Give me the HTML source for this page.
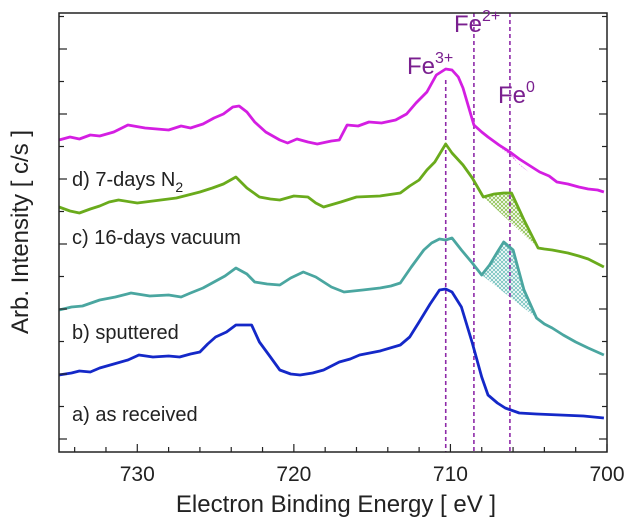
<!DOCTYPE html>
<html><head><meta charset="utf-8"><style>
body{margin:0;background:#fff;}
svg{display:block;font-family:"Liberation Sans",sans-serif;}
</style></head><body>
<svg id="chart" width="627" height="526" viewBox="0 0 627 526">
<defs>
<pattern id="hm" width="4" height="4" patternUnits="userSpaceOnUse"><path d="M0,0L4,4M4,0L0,4" stroke="#e060ee" stroke-width="0.8"/></pattern>
<pattern id="hg" width="4" height="4" patternUnits="userSpaceOnUse"><path d="M0,0L4,4M4,0L0,4" stroke="#8cc050" stroke-width="0.8"/></pattern>
<pattern id="ht" width="4" height="4" patternUnits="userSpaceOnUse"><path d="M0,0L4,4M4,0L0,4" stroke="#70c0bc" stroke-width="0.8"/></pattern>
</defs>
<g id="marks"></g>
<rect x="59" y="13" width="548" height="439" fill="none" stroke="#222" stroke-width="1.5"/>
<g id="axes"></g>
<text x="72" y="186" font-size="20" fill="#222">d) 7-days N<tspan font-size="14" dy="6">2</tspan></text>
<text x="72" y="244" font-size="20" fill="#222">c) 16-days vacuum</text>
<text x="72" y="339" font-size="20" fill="#222">b) sputtered</text>
<text x="72" y="421" font-size="20" fill="#222">a) as received</text>
<text x="407" y="74" font-size="24" fill="#7a1f8f">Fe<tspan font-size="16" dy="-11">3+</tspan></text>
<text x="454" y="32" font-size="24" fill="#7a1f8f">Fe<tspan font-size="16" dy="-11">2+</tspan></text>
<text x="498" y="103" font-size="24" fill="#7a1f8f">Fe<tspan font-size="16" dy="-11">0</tspan></text>
<text x="336" y="512" font-size="24" fill="#222" text-anchor="middle">Electron Binding Energy [ eV ]</text>
<text transform="translate(28,232) rotate(-90)" font-size="24" fill="#222" text-anchor="middle">Arb. Intensity [ c/s ]</text>
</svg>
<script>
const xTicks=[730,720,710,700];
const refLines=[710.3,708.5,706.2];
const eD=[735,734.3,733.7,733,732.4,731.5,730.6,729.5,728,727.2,726.6,725.8,725.1,724.5,723.9,723.5,723,722.5,721.8,720.9,720.4,719.8,719.1,718.5,717.6,717.1,716.6,715.9,715.2,714.4,713.5,712.8,712.2,711.5,710.9,710.3,709.9,709.5,709.2,708.5,708,707.6,706.9,706.2,705.6,705,704.3,703.7,703.2,702.5,701.8,701.2,700.6,700.2];
const vD=[312,315,313,317,316,320,327,324,322,326,324,328,334,338,345,346,340,330,320,312,309,313,310,308,311,312,327,326,330,329,332,338,349,360,377,383,382,375,364,327,320,315,307,300,293,287,280,276,270,268,265,263,262,260];
const eC=[735,734.3,733.7,733,732.4,731.8,731.2,730,729,727.5,726,725.2,724.5,723.7,723,722.2,721.5,720.9,720,719.1,718.6,718.1,717,716,714.5,713.2,712.6,712,711.5,711,710.3,709.9,709.2,708.6,707.9,707.2,706.6,706.1,705.3,704.4,704,703.5,702.5,701.8,701.2,700.2];
const vC=[245,241,239,243,246,250,252,249,251,254,260,264,268,275,264,255,253,252,256,255,249,245,250,255,256,259,266,272,282,290,308,299,287,274,255,258,259,259,232,204,203,202,199,196,193,185];
const eB=[735,734.2,733.5,732.4,731.4,730.4,729.2,728,727.2,726.6,725.8,725.1,724.4,723.7,723,722.5,721.7,720.9,720.2,719.4,718.6,717.6,716.8,715.6,714.5,713.8,713.2,712.5,711.7,711.2,710.7,710.3,709.9,709.3,708.6,708,707.5,707,706.6,706,705.3,704.5,704,703.5,702.8,702,701.2,700.2];
const vB=[142,145,146,152,155,159,156,157,155,159,164,170,176,184,178,170,168,167,174,180,175,165,160,162,164,166,169,185,202,209,213,212,214,202,189,177,187,200,210,202,162,134,128,124,117,110,104,97];
const eA=[735,734.2,733.7,733,732.4,731.5,730.6,729.9,729,728,727.3,726.6,726,725.5,725,724.3,723.7,723.2,722.7,722.2,721.5,720.9,720.2,719.6,718.8,718.1,717.1,716.4,715.8,714.5,713.2,712.6,712,711.3,710.7,710.3,709.9,709.3,708.6,708,707.6,707,706.5,705.6,704.5,703,701.5,700.2];
const vA=[77,79,81,80,84,88,92,97,95,96,95,98,100,108,115,120,127,127,127,110,95,82,78,77,79,82,90,93,97,101,107,115,130,148,162,163,160,145,109,75,57,49,44,39,38,37,36,34];
const mD=[[707.6,315],[706.9,307],[706.2,300],[705.6,287],[705.0,280]];
const mC=[[707.9,255],[707.2,258],[706.6,259],[706.1,259],[705.3,232],[704.4,204]];
const mB=[[708,177],[707.5,187],[707,200],[706.6,210],[706,202],[705.3,162],[704.5,134]];

const X=e=>59+(735-e)*(607-59)/35;
const Y=v=>452-v;
const NS="http://www.w3.org/2000/svg";
const marks=document.getElementById('marks'), axes=document.getElementById('axes');
function mk(tag,attrs,parent){const el=document.createElementNS(NS,tag);for(const k in attrs)el.setAttribute(k,attrs[k]);parent.appendChild(el);return el;}
function poly(es,vs){return es.map((e,i)=>X(e).toFixed(1)+','+Y(vs[i]).toFixed(1)).join(' ');}
function area(pts,fill,name){
  const p=pts.map(q=>X(q[0]).toFixed(1)+','+Y(q[1]).toFixed(1)).join(' ');
  const el=mk('polygon',{points:p,fill:fill,stroke:'none'},marks);
  
  
}
area(mD,'url(#hm)','fe0-area-d');
area(mC,'url(#hg)','fe0-area-c');
area(mB,'url(#ht)','fe0-area-b');
const refNames=['fe3-line','fe2-line','fe0-line'];
const refTop=[80,13,13];
refLines.forEach((e,i)=>{
  const l=mk('line',{x1:X(e),x2:X(e),y1:refTop[i],y2:452,stroke:'#8e2aa8','stroke-width':1.6,'stroke-dasharray':'4,3'},marks);
  
  
});
const series=[[eD,vD,'#d41ee2','series-d-7days-n2'],[eC,vC,'#6aab1c','series-c-16days-vacuum'],[eB,vB,'#4aa6a0','series-b-sputtered'],[eA,vA,'#1428c8','series-a-as-received']];
series.forEach(s=>{
  const pl=mk('polyline',{points:poly(s[0],s[1]),fill:'none',stroke:s[2],'stroke-width':2.8,'stroke-linejoin':'round'},marks);
  
  
});
for(let e=734;e>=700;e-=2){
  const major=(e%10===0);
  const t=mk('line',{x1:X(e),x2:X(e),y1:452,y2:major?444:447,stroke:'#222','stroke-width':1.2},axes);
  
  
}
xTicks.forEach(e=>{
  const t=mk('text',{x:X(e),y:481,'font-size':21,fill:'#222','text-anchor':'middle'},axes);
  t.textContent=e;
  
  
});
for(let k=0;k<14;k++){
  const y=439-k*32.5; if(y<14)break;
  const major=(k%2===0);
  const len=major?8:5;
  const a=mk('line',{x1:59,x2:59+len,y1:y,y2:y,stroke:'#222','stroke-width':1.2},axes);
  
  
  const b=mk('line',{x1:607,x2:607-len,y1:y,y2:y,stroke:'#222','stroke-width':1.2},axes);
  
  
}
</script>
</body></html>
